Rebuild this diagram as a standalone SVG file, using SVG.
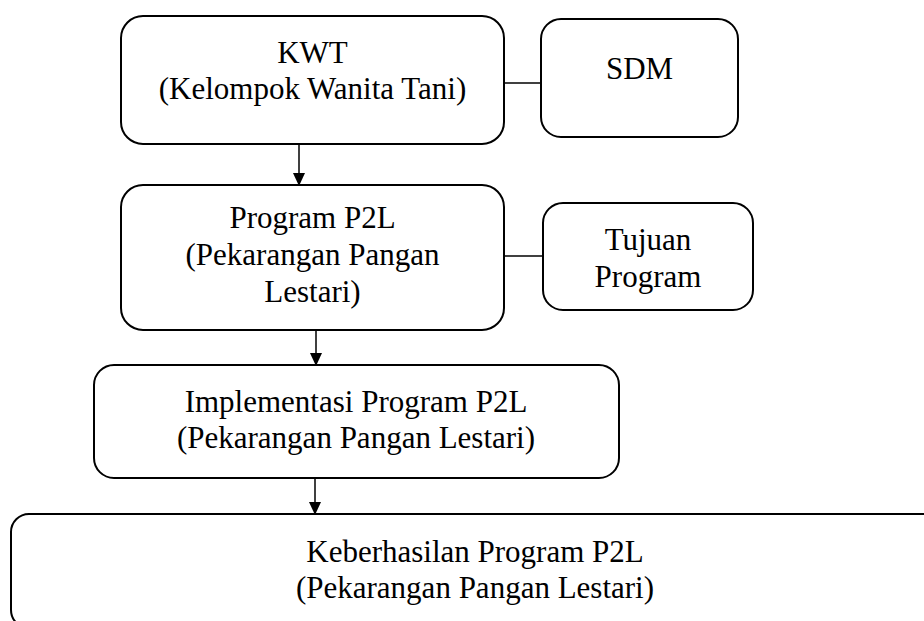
<svg xmlns="http://www.w3.org/2000/svg" width="924" height="621" viewBox="0 0 924 621">
  <style>
    .box { fill: #ffffff; stroke: #000000; stroke-width: 2; }
    .t { font-family: 'Liberation Serif', Tinos, 'Times New Roman', 'DejaVu Serif', serif; font-size: 31px; fill: #000000; text-anchor: middle; }
    .link { stroke: #000000; stroke-width: 1.3; fill: none; }
    .arrow { stroke: #000000; stroke-width: 1.5; fill: none; marker-end: url(#ah); }
  </style>
  <defs>
    <marker id="ah" markerWidth="13" markerHeight="14" refX="13" refY="6.5" orient="auto" markerUnits="userSpaceOnUse" viewBox="0 0 14 13">
      <path d="M0,0 L14,6.5 L0,13 Z" fill="#000000"/>
    </marker>
  </defs>
  <rect width="924" height="621" fill="#ffffff"/>

  <g id="connectors">
    <line class="link" x1="504" y1="83" x2="541" y2="83"/>
    <line class="link" x1="504" y1="256" x2="543" y2="256"/>
    <line class="arrow" x1="299" y1="144" x2="299" y2="185"/>
    <line class="arrow" x1="316" y1="330" x2="316" y2="365"/>
    <line class="arrow" x1="315" y1="478" x2="315" y2="514"/>
  </g>

  <g id="kwt">
    <rect class="box" x="121" y="16" width="383" height="128" rx="22" ry="22"/>
    <text class="t" font-family="Liberation Serif, serif" x="312.5" y="63">KWT</text>
    <text class="t" font-family="Liberation Serif, serif" x="312.5" y="99">(Kelompok Wanita Tani)</text>
  </g>

  <g id="sdm">
    <rect class="box" x="541" y="19" width="197" height="118" rx="20" ry="20"/>
    <text class="t" font-family="Liberation Serif, serif" x="639.5" y="79">SDM</text>
  </g>

  <g id="program">
    <rect class="box" x="121" y="185" width="383" height="145" rx="22" ry="22"/>
    <text class="t" font-family="Liberation Serif, serif" x="312.5" y="228">Program P2L</text>
    <text class="t" font-family="Liberation Serif, serif" x="312.5" y="265">(Pekarangan Pangan</text>
    <text class="t" font-family="Liberation Serif, serif" x="312.5" y="302">Lestari)</text>
  </g>

  <g id="tujuan">
    <rect class="box" x="543" y="203" width="210" height="107" rx="20" ry="20"/>
    <text class="t" font-family="Liberation Serif, serif" x="648" y="250">Tujuan</text>
    <text class="t" font-family="Liberation Serif, serif" x="648" y="287">Program</text>
  </g>

  <g id="implementasi">
    <rect class="box" x="94" y="365" width="525" height="113" rx="20" ry="20"/>
    <text class="t" font-family="Liberation Serif, serif" x="356" y="412">Implementasi Program P2L</text>
    <text class="t" font-family="Liberation Serif, serif" x="356" y="448">(Pekarangan Pangan Lestari)</text>
  </g>

  <g id="keberhasilan">
    <rect class="box" x="11" y="514" width="929" height="114" rx="18" ry="18"/>
    <text class="t" font-family="Liberation Serif, serif" x="475" y="562">Keberhasilan Program P2L</text>
    <text class="t" font-family="Liberation Serif, serif" x="475" y="598">(Pekarangan Pangan Lestari)</text>
  </g>
</svg>
